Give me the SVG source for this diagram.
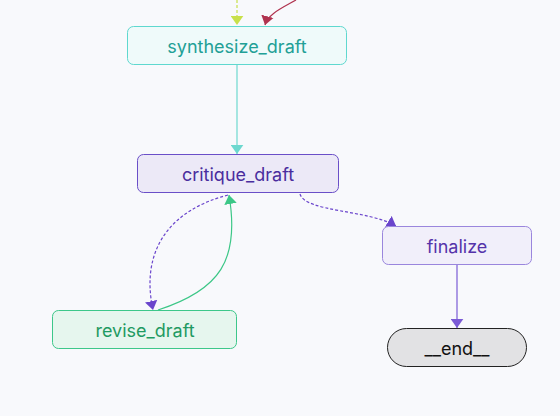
<svg xmlns="http://www.w3.org/2000/svg" width="560" height="416" viewBox="0 0 560 416">
<defs>
<marker id="aYel" viewBox="0 0 10 14" refX="10" refY="7" markerWidth="9" markerHeight="13" markerUnits="userSpaceOnUse" orient="auto"><path d="M0,0 L10,7 L0,14 z" fill="#c8e04a"/></marker>
<marker id="aRed" viewBox="0 0 10 14" refX="10" refY="7" markerWidth="9" markerHeight="14" markerUnits="userSpaceOnUse" orient="auto"><path d="M0,0 L10,7 L0,14 z" fill="#b0334f"/></marker>
<marker id="aTeal" viewBox="0 0 10 14" refX="10" refY="7" markerWidth="9" markerHeight="13" markerUnits="userSpaceOnUse" orient="auto"><path d="M0,0 L10,7 L0,14 z" fill="#6dd8cf"/></marker>
<marker id="aPur" viewBox="0 0 10 14" refX="10" refY="7" markerWidth="9" markerHeight="13" markerUnits="userSpaceOnUse" orient="auto"><path d="M0,0 L10,7 L0,14 z" fill="#6a45cc"/></marker>
<marker id="aGrn" viewBox="0 0 10 14" refX="10" refY="7" markerWidth="9" markerHeight="13" markerUnits="userSpaceOnUse" orient="auto"><path d="M0,0 L10,7 L0,14 z" fill="#3cc787"/></marker>
<marker id="aLav" viewBox="0 0 10 14" refX="10" refY="7" markerWidth="9" markerHeight="13" markerUnits="userSpaceOnUse" orient="auto"><path d="M0,0 L10,7 L0,14 z" fill="#7b5bd6"/></marker>
</defs>
<style>
text{font-family:Inter,"Noto Sans","Liberation Sans",sans-serif;font-size:18px;font-weight:400;text-anchor:middle;dominant-baseline:central}
.e{fill:none;stroke-width:1.2}
.d{stroke-dasharray:3,2}
</style>
<rect width="560" height="416" fill="#f8f9fc"/>
<g id="connectors">
<path class="e d" d="M237,0 L237,25" stroke="#c8e04a" marker-end="url(#aYel)"/>
<path class="e" d="M296,0 C282,8 268,14 265,25" stroke="#b0334f" marker-end="url(#aRed)"/>
<path class="e" d="M237,65 L237,154" stroke="#6dd8cf" marker-end="url(#aTeal)"/>
<path class="e d" d="M300,194 C305,212 370,210 396,226" stroke="#6a45cc" marker-end="url(#aPur)"/>
<path class="e d" d="M228,195 C170,210 140,250 153,310" stroke="#6a45cc" marker-end="url(#aPur)"/>
<path class="e" d="M158,310 C220,290 240,260 229,195" stroke="#3cc787" marker-end="url(#aGrn)"/>
<path class="e" d="M457,265 L457,328" stroke="#7b5bd6" marker-end="url(#aLav)"/>
</g>
<g id="synthesize_draft">
<rect x="127.5" y="26.5" width="219" height="38" rx="6" fill="#effafa" stroke="#5fd8cf"/>
<text x="237" y="46" fill="#22a096">synthesize_draft</text>
</g>
<g id="critique_draft">
<rect x="137.5" y="154.5" width="201" height="38" rx="6" fill="#ece9f7" stroke="#6a4fc8"/>
<text x="238" y="174" fill="#4a2d9e">critique_draft</text>
</g>
<g id="revise_draft">
<rect x="52.5" y="310.5" width="184" height="38" rx="6" fill="#e6f6ee" stroke="#3dc78a"/>
<text x="145" y="330" fill="#1f9a62">revise_draft</text>
</g>
<g id="finalize">
<rect x="382.5" y="226.5" width="149" height="38" rx="6" fill="#f1effa" stroke="#9a86dd"/>
<text x="457" y="246" fill="#5533aa">finalize</text>
</g>
<g id="__end__">
<rect x="387.5" y="328.5" width="139" height="38" rx="19" fill="#e2e2e4" stroke="#222"/>
<text x="457" y="348" fill="#111">__end__</text>
</g>
</svg>
